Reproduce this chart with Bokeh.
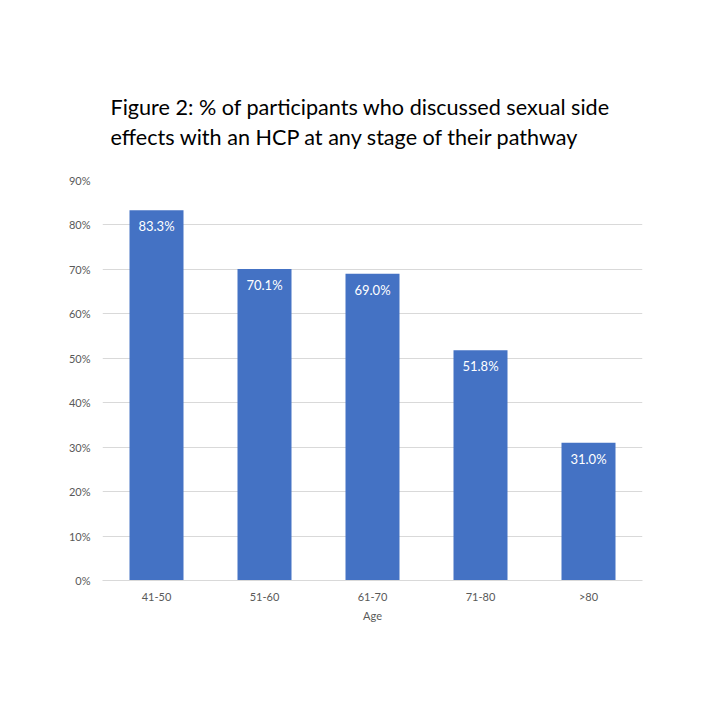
from bokeh.plotting import figure
from bokeh.models import ColumnDataSource, LabelSet, NumeralTickFormatter, Title, FixedTicker
from bokeh.core.properties import value
from bokeh.embed import file_html
from bokeh.resources import INLINE

categories = ["41-50", "51-60", "61-70", "71-80", ">80"]
values = [0.833, 0.701, 0.690, 0.518, 0.310]
labels = ["83.3%", "70.1%", "69.0%", "51.8%", "31.0%"]
y_ticks = [0.0, 0.1, 0.2, 0.3, 0.4, 0.5, 0.6, 0.7, 0.8, 0.9]
title_lines = ["Figure 2: % of participants who discussed sexual side",
               "effects with an HCP at any stage of their pathway"]

FONT = "Lato"
GRAY = "#595959"

src = ColumnDataSource(dict(cat=categories, val=values, lab=labels))

p = figure(x_range=categories, y_range=(0, 0.9), width=710, height=710,
           output_backend="svg", toolbar_location=None,
           min_border_left=102, min_border_right=68, min_border_top=180, min_border_bottom=130)
p.outline_line_color = None
p.background_fill_color = "white"
p.border_fill_color = "white"

p.vbar(x="cat", top="val", width=0.5, source=src, color="#4472C4", line_color=None)

lbl = LabelSet(x="cat", y="val", text="lab", source=src, y_offset=-8,
               text_align="center", text_baseline="top", text_color="white",
               text_font_size="13px", text_font=value(FONT))
p.add_layout(lbl)

p.yaxis.ticker = FixedTicker(ticks=y_ticks)
p.yaxis.formatter = NumeralTickFormatter(format="0%")
p.yaxis.axis_line_color = None
p.yaxis.major_tick_line_color = None
p.yaxis.minor_tick_line_color = None
p.yaxis.major_label_text_font_size = "11px"
p.yaxis.major_label_text_color = GRAY
p.yaxis.major_label_text_font = FONT
p.yaxis.major_label_standoff = 6

p.xaxis.axis_line_color = "#d9d9d9"
p.xaxis.major_tick_line_color = None
p.xaxis.minor_tick_line_color = None
p.xaxis.major_label_text_font_size = "11px"
p.xaxis.major_label_text_color = GRAY
p.xaxis.major_label_text_font = FONT
p.xaxis.major_label_standoff = 3
p.xaxis.axis_label = "Age"
p.xaxis.axis_label_text_font_size = "11px"
p.xaxis.axis_label_text_color = GRAY
p.xaxis.axis_label_text_font = FONT
p.xaxis.axis_label_text_font_style = "normal"
p.xaxis.axis_label_standoff = 3

p.xgrid.grid_line_color = None
p.ygrid.grid_line_color = "#d9d9d9"

p.title.visible = False
# spacer between the title block and the plot frame
p.add_layout(Title(text=" ", align="left", text_font=FONT, text_font_size="24px",
                   standoff=0), "above")
p.add_layout(Title(text=title_lines[1], align="left", offset=8, text_font=FONT,
                   text_font_size="21.6px", text_font_style="normal", text_color="black",
                   standoff=0), "above")
p.add_layout(Title(text=title_lines[0], align="left", offset=8, text_font=FONT,
                   text_font_size="21.6px", text_font_style="normal", text_color="black",
                   standoff=4), "above")

open("out.html", "w").write(file_html(p, INLINE))
